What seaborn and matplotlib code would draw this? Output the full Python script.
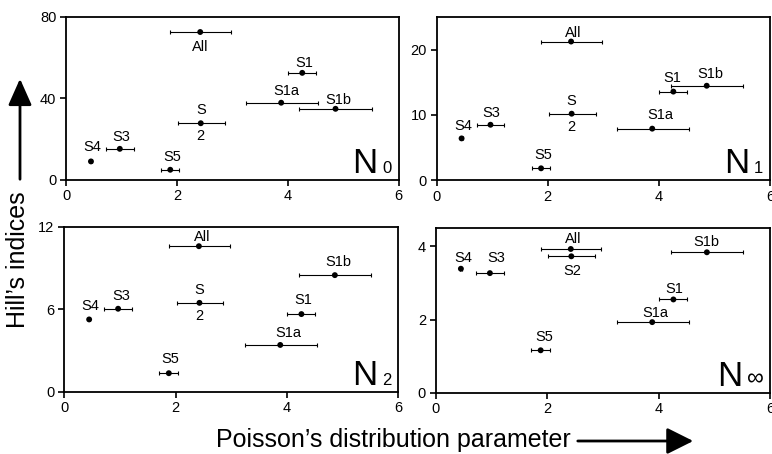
import numpy as np
import pandas as pd
import matplotlib
matplotlib.use("Agg")
import matplotlib.pyplot as plt
import seaborn as sns

# data
sites = ["All", "S1", "S1a", "S1b", "S2", "S3", "S4", "S5"]
poisson = [2.42, 4.26, 3.88, 4.86, 2.43, 0.97, 0.45, 1.88]
poisson_lo = [1.88, 4.00, 3.25, 4.21, 2.02, 0.72, 0.43, 1.71]
poisson_hi = [2.97, 4.51, 4.54, 5.51, 2.86, 1.22, 0.47, 2.04]

n0 = [72.6, 52.5, 37.8, 34.8, 27.7, 15.1, 8.9, 4.8]
n1 = [21.3, 13.6, 7.9, 14.5, 10.2, 8.5, 6.4, 1.8]
n2 = [10.6, 5.65, 3.4, 8.49, 6.47, 6.04, 5.26, 1.34]
ninf = [3.93, 2.55, 1.93, 3.84, 3.73, 3.27, 3.39, 1.16]

df = pd.DataFrame({"site": sites, "poisson": poisson, "lo": poisson_lo,
                   "hi": poisson_hi, "N0": n0, "N1": n1, "N2": n2, "Ninf": ninf})

# label placement per panel (pixel offsets from the point)
split_s2 = [("S", 0, 13), ("2", 0, -13)]
labels_n0 = {"All": [("All", 0, -15)], "S1": [("S1", 2, 10)], "S1a": [("S1a", 5, 12)],
             "S1b": [("S1b", 3, 9)], "S2": split_s2, "S3": [("S3", 1, 12)],
             "S4": [("S4", 1, 14)], "S5": [("S5", 2, 13)]}
labels_n1 = {"All": [("All", 2, 9)], "S1": [("S1", -1, 14)], "S1a": [("S1a", 8, 14)],
             "S1b": [("S1b", 4, 12)], "S2": split_s2, "S3": [("S3", 1, 12)],
             "S4": [("S4", 2, 12)], "S5": [("S5", 2, 13)]}
labels_n2 = {"All": [("All", 3, 9)], "S1": [("S1", 2, 14)], "S1a": [("S1a", 8, 12)],
             "S1b": [("S1b", 4, 13)], "S2": split_s2, "S3": [("S3", 3, 13)],
             "S4": [("S4", 1, 13)], "S5": [("S5", 1, 14)]}
labels_ninf = {"All": [("All", 2, 10)], "S1": [("S1", 1, 10)], "S1a": [("S1a", 3, 9)],
               "S1b": [("S1b", -1, 10)], "S2": [("S2", 1, -15)], "S3": [("S3", 6, 15)],
               "S4": [("S4", 2, 11)], "S5": [("S5", 4, 13)]}

panels = [
    ("N0", [0.0855, 0.6046, 0.431, 0.358], (0, 80), [0, 40, 80], "0", labels_n0),
    ("N1", [0.5655, 0.6035, 0.432, 0.358], (0, 25), [0, 10, 20], "1", labels_n1),
    ("N2", [0.0830, 0.1375, 0.433, 0.3625], (0, 12), [0, 6, 12], "2", labels_n2),
    ("Ninf", [0.5645, 0.1350, 0.4335, 0.3625], (0, 4.5), [0, 2, 4], "\u221e", labels_ninf),
]

sns.set_style("ticks")
plt.rcParams["font.family"] = ["Liberation Sans", "DejaVu Sans"]
plt.rcParams["axes.linewidth"] = 1.3
for key in ["text.color", "axes.labelcolor", "xtick.color", "ytick.color", "axes.edgecolor"]:
    plt.rcParams[key] = "black"

fig = plt.figure(figsize=(7.72, 4.54), dpi=100)

for col, rect, ylim, yticks, sub, labs in panels:
    ax = fig.add_axes(rect)
    xerr = [df["poisson"] - df["lo"], df["hi"] - df["poisson"]]
    ax.errorbar(df["poisson"], df[col], xerr=xerr, fmt="none", ecolor="black",
                elinewidth=0.8, capsize=1.6, capthick=0.8)
    sns.scatterplot(data=df, x="poisson", y=col, ax=ax, color="black", s=18,
                    edgecolor="none", zorder=3)
    for _, r in df.iterrows():
        for txt, dx, dy in labs[r["site"]]:
            ax.annotate(txt, (r["poisson"], r[col]), xytext=(dx, dy),
                        textcoords="offset pixels", ha="center", va="center",
                        fontsize=10.5)
    ax.set_xlim(0, 6)
    ax.set_ylim(*ylim)
    ax.set_xticks([0, 2, 4, 6])
    ax.set_yticks(yticks)
    ax.set_xlabel("")
    ax.set_ylabel("")
    ax.tick_params(direction="out", length=4, width=1.2, labelsize=10.5, pad=3)
    for s in ax.spines.values():
        s.set_visible(True)
        s.set_color("black")
    # panel name, big N with a subscript
    sub_size = 17 if sub == "\u221e" else 12
    n_dx = -28 if sub == "\u221e" else -21
    ax.annotate("N", (1, 0), xycoords="axes fraction", xytext=(n_dx, 7),
                textcoords="offset pixels", ha="right", va="baseline", fontsize=25)
    ax.annotate(sub, (1, 0), xycoords="axes fraction", xytext=(-7, 7),
                textcoords="offset pixels", ha="right", va="baseline", fontsize=sub_size)

# axis titles with arrows
fig.text(393 / 772, 1 - 440 / 454, "Poisson\u2019s distribution parameter",
         ha="center", va="center", fontsize=18)
fig.text(18 / 772, 1 - 260 / 454, "Hill\u2019s indices", rotation=90,
         ha="center", va="center", fontsize=18)
fig.add_artist(matplotlib.patches.FancyArrowPatch(
    (575 / 772, 1 - 441 / 454), (696 / 772, 1 - 441 / 454), transform=fig.transFigure,
    arrowstyle="-|>,head_length=0.9,head_width=0.45", mutation_scale=18,
    lw=2, color="black"))
fig.add_artist(matplotlib.patches.FancyArrowPatch(
    (20 / 772, 1 - 182 / 454), (20 / 772, 1 - 76 / 454), transform=fig.transFigure,
    arrowstyle="-|>,head_length=0.9,head_width=0.4", mutation_scale=18,
    lw=2, color="black"))

fig.savefig("out.png", dpi=100)
